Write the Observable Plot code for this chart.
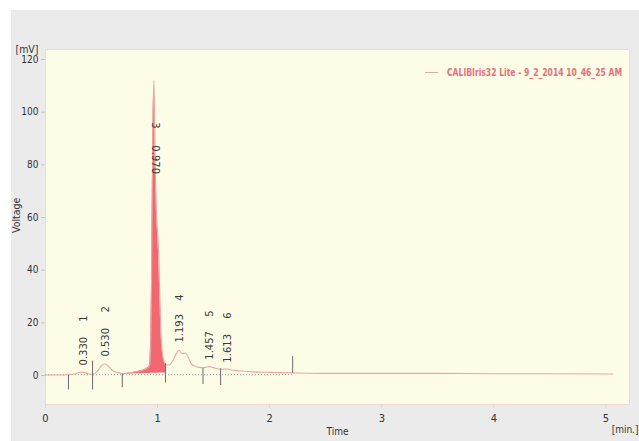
<!DOCTYPE html>
<html>
<head>
<meta charset="utf-8">
<script src="https://cdn.jsdelivr.net/npm/d3@7"></script>
<script src="https://cdn.jsdelivr.net/npm/@observablehq/plot@0.6"></script>
<style>
  html, body { margin: 0; padding: 0; background: #ffffff; }
  #wrap { position: relative; width: 639px; height: 441px; overflow: hidden; }
  #chart { position: absolute; left: 11px; top: 10px; }
  #legend { position: absolute; right: 17px; top: 66px; display: flex; align-items: center;
    font-family: "Liberation Sans Narrow", "DejaVu Sans Condensed", "Arial Narrow", sans-serif;
    font-size: 10.5px; font-weight: bold; color: #e2707c; white-space: nowrap; }
  #legend .swatch { display: inline-block; width: 13px; height: 0; border-top: 1px solid #d9a9a9; margin-right: 9px; }
  #legend .txt { display: inline-block; width: 175px; }
  #legend .txt span { display: inline-block; transform-origin: left center; }
</style>
</head>
<body>
<div id="wrap">
  <div id="chart"></div>
  <div id="legend"><span class="swatch"></span><span class="txt"><span id="legendText"></span></span></div>
</div>
<script>
// ---- data ----
const timeMin = [0, 0.10, 0.20, 0.26, 0.30, 0.33, 0.36, 0.40, 0.43, 0.47, 0.50, 0.53, 0.56, 0.59, 0.625, 0.66, 0.685,
  0.75, 0.82, 0.88, 0.92, 0.93, 0.94, 0.947, 0.953, 0.960, 0.967, 0.974, 0.982, 0.99, 1.00, 1.01, 1.02, 1.03, 1.045, 1.06, 1.07,
  1.10, 1.14, 1.17, 1.19, 1.215, 1.235, 1.25, 1.27, 1.30, 1.33, 1.37, 1.40, 1.43, 1.46, 1.50, 1.545, 1.58, 1.62, 1.67,
  1.75, 1.85, 2.0, 2.2, 2.5, 3.0, 3.5, 4.0, 4.5, 5.06];
const voltageMV = [0.2, 0.2, 0.3, 0.6, 1.1, 1.3, 1.0, 0.5, 0.6, 2.0, 3.8, 4.4, 3.6, 2.2, 1.3, 1.0, 0.6,
  1.0, 1.5, 2.2, 3.2, 4.0, 15, 40, 72, 100, 112, 95, 74, 62, 54, 46, 30, 16, 8, 5, 4.2,
  4.0, 6.0, 8.5, 9.6, 8.4, 8.4, 8.5, 7.2, 4.5, 3.6, 3.1, 3.0, 3.1, 3.4, 3.0, 2.5, 2.4, 2.5, 2.0,
  1.7, 1.4, 1.2, 1.0, 0.8, 0.8, 0.8, 0.7, 0.7, 0.6];

const peakIds = [1, 2, 3, 4, 5, 6];
const peakTimes = ["0.330", "0.530", "0.970", "1.193", "1.457", "1.613"];
const peakLabelY = [3.8, 7.2, 87.4, 12.5, 6.0, 4.9];
const peakIdY = [21.6, 25.1, 95, 29.6, 23.5, 22.8];

const markTimes = [0.205, 0.42, 0.685, 1.07, 1.405, 1.5625, 2.205];
const markTop = [0, 5.5, 0.6, 4.5, 2.6, 2.6, 7.2];
const markBottom = [-5.5, -5.5, -4.6, -2.8, -3.4, -3.8, 0.9];

const mainPeakRange = [0.685, 1.07];
const mainPeakBase = [0.5, 1.0];

const xTicks = [0, 1, 2, 3, 4, 5];
const yTicks = [0, 20, 40, 60, 80, 100, 120];
const legendLabel = "CALIBIris32 Lite - 9_2_2014 10_46_25 AM";

// ---- tables built from the arrays ----
const signal = timeMin.map((t, i) => ({t, v: voltageMV[i]}));
const fillData = signal
  .filter(d => d.t >= mainPeakRange[0] && d.t <= mainPeakRange[1])
  .map(d => ({...d, base: mainPeakBase[0] + (mainPeakBase[1] - mainPeakBase[0]) * (d.t - mainPeakRange[0]) / (mainPeakRange[1] - mainPeakRange[0])}));
const peaks = peakIds.map((id, i) => ({id: String(id), rt: +peakTimes[i], label: peakTimes[i], ly: peakLabelY[i], iy: peakIdY[i]}));
const markers = markTimes.map((t, i) => ({t, top: markTop[i], bottom: markBottom[i]}));

const narrow = '"Liberation Sans Narrow", "DejaVu Sans Condensed", "Arial Narrow", sans-serif';

const chart = Plot.plot({
  width: 628,
  height: 431,
  marginLeft: 34,
  marginRight: 10,
  marginTop: 39,
  marginBottom: 37,
  x: {domain: [0, 5.21]},
  y: {domain: [-11, 123.8]},
  style: {background: "#ebebeb", fontFamily: narrow, fontSize: "10px", color: "#333"},
  marks: [
    Plot.frame({fill: "#fdfde7", stroke: "#f1d9d6"}),
    Plot.axisX({ticks: xTicks, tickSize: 4, tickPadding: 6, stroke: "#e8cccc", fill: "#333", fontSize: 11, label: null, tickFormat: d => String(d)}),
    Plot.axisY({ticks: yTicks, tickSize: 4, tickPadding: 3, stroke: "#c8c8c8", fill: "#333", fontSize: 10, label: null}),
    Plot.ruleY([0.3], {x1: 0, x2: markTimes[markTimes.length - 1], stroke: "#9a9a9a", strokeDasharray: "1,2", strokeWidth: 1}),
    Plot.areaY(fillData, {x: "t", y1: "base", y2: "v", fill: "#f26870", curve: "linear"}),
    Plot.line(signal, {x: "t", y: "v", stroke: "#eba6a2", strokeWidth: 1.1, curve: "monotone-x"}),
    Plot.ruleX(markers, {x: "t", y1: "top", y2: "bottom", stroke: "#6a6a6a", strokeWidth: 1}),
    Plot.text(peaks, {x: "rt", y: "ly", text: "label", rotate: d => d.id === "3" ? 90 : -90, textAnchor: "start",
      dx: 1, fontFamily: "DejaVu Sans, sans-serif", fontSize: 10, fill: "#3a3a3a"}),
    Plot.text(peaks, {x: "rt", y: "iy", text: "id", rotate: d => d.id === "3" ? 90 : -90, textAnchor: "middle",
      dx: 1, fontFamily: "DejaVu Sans, sans-serif", fontSize: 10, fill: "#3a3a3a"}),
    Plot.text(["[mV]"], {frameAnchor: "top-left", textAnchor: "end", dx: -7, dy: -4, fontSize: 10.5, fill: "#333"}),
    Plot.text(["Voltage"], {frameAnchor: "left", rotate: -90, dx: -29, dy: 6, fontSize: 10.5, fill: "#333"}),
    Plot.text(["Time"], {frameAnchor: "bottom", dy: 30, fontSize: 10, fill: "#333"}),
    Plot.text(["[min.]"], {frameAnchor: "bottom-right", textAnchor: "end", dx: 9, dy: 28, fontSize: 10, fill: "#333"})
  ]
});
document.getElementById("chart").appendChild(chart);

// legend text, squeezed horizontally to the narrow face of the original
const lt = document.getElementById("legendText");
lt.textContent = legendLabel;
const w = lt.getBoundingClientRect().width;
if (w > 175) lt.style.transform = `scaleX(${175 / w})`;
</script>
</body>
</html>
